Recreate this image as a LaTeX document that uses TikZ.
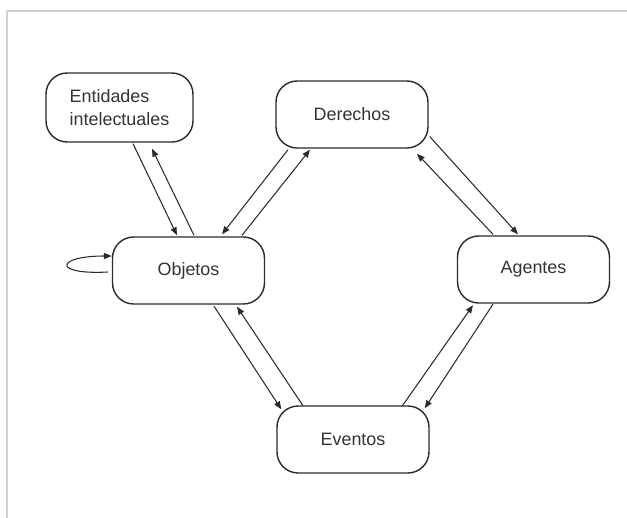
\documentclass[tikz,border=0pt]{standalone}
\usepackage{fontspec}
\setmainfont{Liberation Sans}
\usetikzlibrary{arrows.meta, calc}
\definecolor{lnblack}{HTML}{2B2B2B}
\definecolor{txgray}{HTML}{333333}
\definecolor{frgray}{HTML}{D2D2D2}

\begin{document}
\begin{tikzpicture}[
  x=0.02cm, y=-0.02cm,
  entity/.style={
    rectangle,
    rounded corners=12pt,
    draw=lnblack,
    line width=0.8pt,
    minimum width=3.04cm,
    minimum height=1.34cm,
    text=txgray,
    font=\fontsize{10.2}{13}\selectfont
  },
  link/.style={
    draw=lnblack,
    line width=0.6pt,
    -{Triangle[length=4.5pt, width=3.5pt]}
  }
]
  % Page and frame
  \useasboundingbox (0,0) rectangle (627,518);
  \draw[frgray, line width=1.2pt] (7,518) -- (7,11) -- (627,11);

  % Entities - placed at coordinates
  \node[entity, minimum width=2.94cm, minimum height=1.38cm, align=left] (ent) at (119.5,107.5) {Entidades\\intelectuales};
  \node[entity] (obj) at (188.5,270.5) {Objetos};
  \node[entity] (der) at (352,114.5) {Derechos};
  \node[entity] (age) at (533.5,269.5) {Agentes};
  \node[entity] (eve) at (353,439.5) {Eventos};

  % Entidades intelectuales <-> Objetos
  \draw[link] ($(ent.south)+(13.5,1)$) -- ($(obj.north)+(-11.5,-1)$);
  \draw[link] ($(obj.north)+(5.5,-1)$) -- ($(ent.south)+(32.5,6)$);

  % Objetos <-> Derechos
  \draw[link] ($(der.south)+(-64,1)$) -- ($(obj.north)+(33.5,-2)$);
  \draw[link] ($(obj.north)+(53.5,-1)$) -- ($(der.south)+(-42,1)$);

  % Derechos <-> Agentes
  \draw[link] ($(der.east)+(1,22)$) -- ($(age.north)+(-15.5,-1)$);
  \draw[link] ($(age.north)+(-40.5,-1)$) -- ($(der.south)+(65,5)$);

  % Objetos <-> Eventos
  \draw[link] ($(obj.south)+(25.5,1.5)$) -- ($(eve.north west)+(5,4)$);
  \draw[link] ($(eve.north)+(-50,0.5)$) -- ($(obj.south)+(48.5,2)$);

  % Eventos <-> Agentes
  \draw[link] ($(eve.north)+(49,1)$) -- ($(age.south)+(-60.5,1.5)$);
  \draw[link] ($(age.south)+(-40.5,0.5)$) -- ($(eve.north east)+(-5,3)$);

  % Objetos self loop
  \draw[link] ($(obj.west)+(-4,1.5)$) .. controls +(-56,3) and +(-56,0) .. ($(obj.west)+(0,-14.5)$);
\end{tikzpicture}
\end{document}
